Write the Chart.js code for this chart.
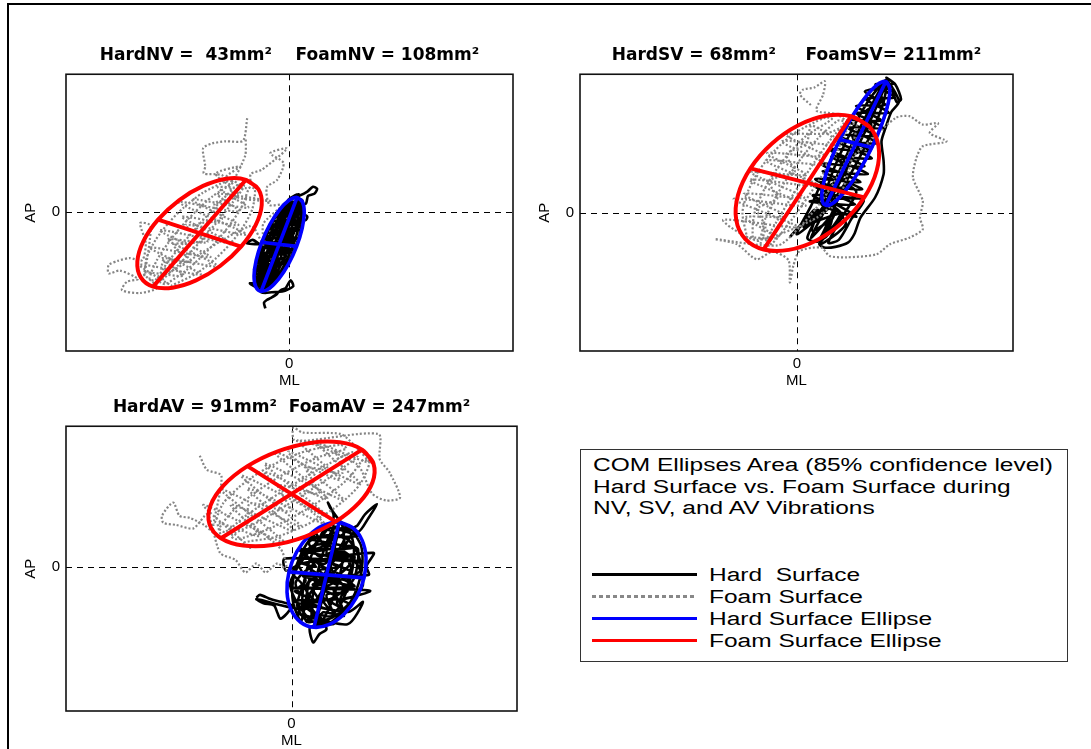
<!DOCTYPE html>
<html><head><meta charset="utf-8">
<script src="https://cdn.jsdelivr.net/npm/chart.js@4.4.0/dist/chart.umd.min.js"></script>
<style>
html,body{margin:0;padding:0;background:#fff;overflow:hidden;width:1091px;height:749px;}
#frame{position:absolute;left:7px;top:3px;width:1084px;height:746px;border-top:2px solid #000;border-left:2px solid #000;box-sizing:border-box;}
canvas{position:absolute;}
#legendBox{position:absolute;left:580px;top:449px;width:488px;height:213px;border:1px solid #333;box-sizing:border-box;background:#fff;}
.lt{position:absolute;left:12px;font-family:'Liberation Sans',Arial,sans-serif;font-size:18px;line-height:22px;white-space:pre;transform-origin:0 50%;transform:scaleX(1.36);color:#000;}
.le{left:128px;}
.ls{position:absolute;left:11px;width:105px;height:3px;}
</style></head><body>
<div id="frame"></div>
<canvas id="c1"></canvas><canvas id="c2"></canvas><canvas id="c3"></canvas>
<div id="legendBox">
  <div class="lt" style="top:4px">COM Ellipses Area (85% confidence level)</div>
  <div class="lt" style="top:26px">Hard Surface vs. Foam Surface during</div>
  <div class="lt" style="top:47px">NV, SV, and AV Vibrations</div>
  <div class="ls" style="top:123px;background:#000"></div>
  <div class="ls" style="top:145px;background:repeating-linear-gradient(to right,#888 0 4px,transparent 4px 7px)"></div>
  <div class="ls" style="top:167px;background:#0000ff"></div>
  <div class="ls" style="top:189px;background:#ff0000"></div>
  <div class="lt le" style="top:114px">Hard  Surface</div>
  <div class="lt le" style="top:136px">Foam Surface</div>
  <div class="lt le" style="top:158px">Hard Surface Ellipse</div>
  <div class="lt le" style="top:180px">Foam Surface Ellipse</div>
</div>
<script>
// ================= DATA (ML / AP, mm) =================
const tickValues = [0];
const panelTitles = [
  'HardNV =  43mm\u00B2    FoamNV = 108mm\u00B2',
  'HardSV = 68mm\u00B2     FoamSV= 211mm\u00B2',
  'HardAV = 91mm\u00B2  FoamAV = 247mm\u00B2'
];
const nvRangeX = [-31.9, 32.0], nvRangeY = [-19.9, 19.7];
const svRangeX = [-31.0, 30.9], svRangeY = [-19.7, 19.9];
const avRangeX = [-32.2, 32.2], avRangeY = [-20.6, 20.1];

// ---- NV ----
const nvHardEllipse = [[1.14,2.07],[1.90,1.45],[2.16,-0.11],[1.86,-2.34],[1.07,-4.93],[-0.10,-7.48],[-1.48,-9.59],[-2.84,-10.95],[-4.00,-11.35],[-4.76,-10.73],[-5.02,-9.17],[-4.72,-6.94],[-3.93,-4.35],[-2.76,-1.80],[-1.38,0.31],[-0.02,1.67],[1.14,2.07],[1.90,1.45]];
const nvHardAxes = [[1.14,2.07],[-4.00,-11.35],null,[1.07,-4.93],[-3.93,-4.35]];
const nvFoamEllipse = [[-6.17,4.60],[-4.41,3.28],[-3.92,1.00],[-4.79,-1.90],[-6.88,-4.97],[-9.87,-7.74],[-13.32,-9.80],[-16.67,-10.84],[-19.45,-10.68],[-21.21,-9.36],[-21.70,-7.08],[-20.83,-4.18],[-18.74,-1.11],[-15.75,1.66],[-12.30,3.72],[-8.95,4.76],[-6.17,4.60],[-4.41,3.28]];
const nvFoamAxes = [[-6.17,4.60],[-19.45,-10.68],null,[-6.88,-4.97],[-18.74,-1.11]];
const nvHardTrace = [[-3.4,-13.8],[-3.6,-13.0],[-3.2,-12.6],[-2.6,-12.3],[-1.8,-11.8],[-1.2,-11.2],[-0.5,-10.9],[0.2,-9.8],[0.6,-10.6],[0.0,-11.0],[-1.0,-11.4],[-2.5,-11.5],[-3.4,-11.6],[-4.0,-11.5],
  [-4.74,-10.56],[-4.87,-9.15],[-4.57,-7.08],[-3.73,-4.37],[-2.51,-1.72],[-1.27,0.25],[-0.12,1.52],
  [0.12,1.49],[-0.88,0.21],[-2.01,-1.77],[-3.28,-4.44],[-4.07,-7.13],[-4.48,-9.19],[-4.50,-10.59],
  [-4.26,-10.62],[-4.09,-9.24],[-3.46,-7.19],[-2.63,-4.50],[-1.40,-1.83],[-0.49,0.16],[0.36,1.46],
  [0.60,1.43],[-0.09,0.11],[-1.00,-1.89],[-2.08,-4.56],[-3.06,-7.25],[-3.69,-9.29],[-4.02,-10.65],
  [-3.79,-10.67],[-3.32,-9.33],[-2.57,-7.31],[-1.56,-4.63],[-0.51,-1.95],[0.28,0.07],[0.83,1.41],
  [1.05,1.38],[0.66,0.03],[-0.03,-2.00],[-1.03,-4.69],[-2.09,-7.36],[-2.94,-9.37],[-3.57,-10.70],
  [-3.34,-10.73],[-2.57,-9.42],[-1.61,-7.42],[-0.50,-4.75],[0.45,-2.06],[1.03,-0.02],[1.28,1.35],
  [1.51,1.33],[1.41,-0.06],[0.93,-2.11],[0.02,-4.81],[-1.13,-7.47],[-2.19,-9.46],[-3.11,-10.75],
  [-2.89,-10.78],[-1.84,-9.50],[-0.67,-7.53],[0.52,-4.87],[1.39,-2.17],[1.76,-0.10],[1.73,1.30],
  [1.92,1.28],[2.07,-0.14],[1.78,-2.21],[0.95,-4.92],[-0.28,-7.57],[-1.53,-9.54],[-2.70,-10.80],
  [-4.1,-9.5],[-1.3,-7.5],[-2.9,-8.5],[-3.5,-6.0],[-0.4,-4.5],[-2.3,-5.5],[0.7,-3.0],[-1.6,-2.0],[1.2,-0.5],[-2.8,-3.5],[-0.6,-6.5],[-3.6,-9.0],[-3.1,-7.0],[-0.9,-4.0],[-0.8,-1.0],[1.3,0.5],[0.2,1.0],[1.4,-1.5],[-1.4,-5.0],[-1.9,-8.0],[-3.8,-10.3],[-4.3,-8.0],[-3.6,-5.0],[-0.9,-2.5],[0.6,-4.0],[-1.6,-6.0],[0.4,-2.0],[-0.7,0.0],
  [-4.5,-10.0],[-2.2,-9.3],[-5.0,-8.2],[-0.9,-7.4],[-4.3,-6.6],[0.3,-5.8],[-3.8,-5.0],[0.8,-4.2],[-3.4,-3.5],[1.4,-2.6],[-2.5,-1.9],[1.9,-1.0],[-1.6,-0.3],[2.0,0.4],[-0.6,0.9],[1.9,1.6],[0.6,2.2],
  [1.6,2.4],[2.6,2.9],[3.4,3.6],[4.0,3.3],[3.6,2.6],[2.7,2.3],[2.4,1.2],
  [1.5,1.0],[-1.2,0.2],[2.2,-0.4],[2.6,-0.7],[2.3,-1.2],[-2.1,-1.3],[1.6,-2.1],[-2.9,-3.0],[1.1,-3.8],[-3.6,-4.6],[-6.0,-4.5],[-5.2,-4.0],[-3.9,-4.8],[0.6,-5.4],[-4.1,-6.2],[-0.1,-7.0],[-4.6,-7.8],[-1.2,-8.6],[-4.8,-9.4],[-2.6,-10.2],[-5.6,-10.2],[-4.2,-11.0],
  [-3.0,-10.8],[-4.9,-9.0],[-1.8,-8.2],[-3.5,-7.2],[-0.4,-6.3],[-3.9,-4.2],[0.2,-3.2],[-2.8,-2.4],[1.0,-1.6],[-1.8,-0.8],[1.2,0.2],[-0.2,1.6],[1.4,2.5],
  [0.5,-0.5],[-1.5,-3.5],[-0.5,-4.0],[-2.5,-6.5],[-1.5,-7.0],[-3.2,-9.5],[-2.0,-9.0],[-3.8,-10.5],
  [-4.6,-9.8],[-3.0,-8.0],[-4.0,-7.3],[-1.0,-5.5],[-3.0,-5.5],[-0.5,-2.5],[-2.0,-2.0],[0.5,-1.0],[-0.9,0.0],[1.3,1.0]];
const nvFoamTrace = [[-6.0,13.4],[-6.6,10.2],[-9.1,10.1],[-11.0,9.8],[-12.3,9.1],[-12.0,6.5],[-12.2,5.5],[-9.5,5.2],[-7.56,2.16],
  [-2.75,1.57],[-10.26,2.55],[-7.11,0.05],[-15.82,1.41],[-6.13,-3.21],[-14.84,-1.85],[-11.68,-4.34],[-17.43,-3.94],[-10.12,-7.8],[-18.23,-6.62],[-15.08,-9.12],[-20.81,-8.72],[-18.85,-10.83],
  [-21.3,-11.6],[-23.9,-11.2],[-23.2,-10.0],[-21.6,-9.6],[-24.2,-8.4],[-25.8,-8.8],[-25.8,-7.6],[-24.5,-7.0],[-22.8,-6.6],[-21.0,-6.9],[-20.5,-4.5],[-21.3,-1.6],[-19.8,-2.0],
  [-20.73,-9.29],[-20.35,-6.46],[-19.05,-3.95],[-17.26,-1.59],[-15.07,0.63],[-12.39,2.70],[-8.77,4.47],
  [-7.99,4.22],[-10.96,2.23],[-13.36,0.08],[-15.48,-2.17],[-17.34,-4.50],[-18.92,-6.93],[-19.95,-9.54],
  [-19.18,-9.79],[-17.50,-7.39],[-15.65,-5.05],[-13.70,-2.75],[-11.67,-0.47],[-9.54,1.77],[-7.22,3.97],
  [-6.44,3.71],[-8.12,1.31],[-9.97,-1.03],[-11.92,-3.33],[-13.95,-5.61],[-16.08,-7.85],[-18.40,-10.05],
  [-17.63,-10.30],[-14.66,-8.31],[-12.26,-6.16],[-10.14,-3.91],[-8.28,-1.58],[-6.70,0.85],[-5.67,3.46],
  [-4.89,3.21],[-5.27,0.38],[-6.57,-2.13],[-8.36,-4.49],[-10.55,-6.71],[-13.23,-8.78],[-16.85,-10.55],
  [-17.0,-10.46],[-21.34,-7.57],[-12.63,-8.93],[-19.94,-5.09],[-11.23,-6.45],[-18.54,-2.61],[-8.65,-4.35],[-15.36,-0.69],[-7.25,-1.87],[-13.96,1.79],[-5.85,0.61],[-10.19,3.5],[-5.63,3.49],[-5.5,5.4],
  [-4.0,6.0],[-2.0,7.5],[-0.3,9.1],[-2.7,8.4],[-0.8,7.0],[-1.7,4.6],[-3.2,3.5],[-2.8,1.0],[-1.0,1.0],[-3.7,-1.7],[-3.7,-4.7],[-5.5,-2.0],
  [-18.11,-9.11],[-17.97,-7.19],[-14.01,-7.02],[-16.57,-4.71],[-12.27,-4.15],[-13.33,-1.85],[-9.62,-1.1],[-10.67,1.21],[-7.56,2.16],[-7.41,4.07],
  [-9.0,5.0],[-7.0,6.5],[-10.5,5.5],[-8.5,4.0],[-6.3,8.0],[-6.2,10.5]];

// ---- SV ----
const svHardEllipse = [[12.72,18.86],[13.27,17.97],[13.08,15.86],[12.19,12.86],[10.72,9.43],[8.91,6.08],[7.02,3.34],[5.35,1.59],[4.14,1.14],[3.59,2.03],[3.78,4.14],[4.67,7.14],[6.14,10.57],[7.95,13.92],[9.84,16.66],[11.51,18.41],[12.72,18.86],[13.27,17.97]];
const svHardAxes = [[12.72,18.86],[4.14,1.14],null,[10.72,9.43],[6.14,10.57]];
const svFoamEllipse = [[7.74,13.89],[10.39,12.37],[11.67,9.64],[11.41,6.10],[9.64,2.29],[6.63,-1.20],[2.85,-3.84],[-1.15,-5.23],[-4.74,-5.17],[-7.39,-3.65],[-8.67,-0.92],[-8.41,2.62],[-6.64,6.43],[-3.63,9.92],[0.15,12.56],[4.15,13.95],[7.74,13.89],[10.39,12.37]];
const svFoamAxes = [[7.74,13.89],[-4.74,-5.17],null,[9.64,2.29],[-6.64,6.43]];
const svHardTrace = [[-1.0,-3.4],[2.5,0.5],[1.0,-2.0],[4.5,1.5],[2.0,-3.5],[5.5,0.2],[3.3,-4.4],[7.0,-1.5],[5.0,1.5],[8.5,-0.5],
  [3.45,1.31],[3.79,4.21],[4.61,6.98],[6.14,10.57],[8.05,14.06],[9.79,16.61],[11.80,18.60],
  [12.08,18.53],[10.45,16.44],[8.89,13.85],[7.06,10.34],[5.45,6.77],[4.45,4.04],[3.73,1.24],
  [4.00,1.17],[5.10,3.88],[6.29,6.56],[7.97,10.11],[9.73,13.64],[11.10,16.28],[12.37,18.46],
  [12.65,18.38],[11.76,16.12],[10.57,13.44],[8.89,9.89],[7.13,6.36],[5.76,3.72],[4.28,1.11],
  [4.55,1.04],[6.41,3.56],[7.97,6.15],[9.80,9.66],[11.41,13.23],[12.41,15.96],[12.94,18.31],
  [13.22,18.24],[13.07,15.79],[12.25,13.02],[10.72,9.43],[8.81,5.94],[7.07,3.39],[4.83,0.97],
  [0.0,-3.0],[2.0,1.0],[4.0,5.0],[5.5,4.5],[3.5,0.5],[1.5,-3.5],[3.0,-4.0],[5.0,0.0],[7.0,4.0],[8.5,3.0],[6.5,-0.5],[4.5,-4.2],[6.0,-3.8],[7.8,-0.8],[9.5,2.0],
  [1.85,1.71],[8.31,1.29],[2.42,3.95],[9.34,3.42],[3.68,6.02],[10.15,5.6],[4.94,8.09],[10.72,7.84],[5.97,10.22],[11.52,10.03],[7.23,12.28],[12.32,12.21],[8.49,14.36],[13.12,14.39],[9.75,16.42],[13.92,16.58],[11.23,18.44],[13.87,18.57],
  [12.8,19.4],[14.1,18.4],[14.9,16.3],[14.3,15.9],[13.6,17.5],
  [12.75,17.86],[9.72,17.42],[12.63,15.51],[8.46,15.35],[12.06,13.26],[7.2,13.29],[11.26,11.08],[5.94,11.21],[10.46,8.9],[4.68,9.15],[9.66,6.71],[3.42,7.08],[9.09,4.48],[2.62,4.89],[8.29,2.29],[2.28,2.6],[6.22,0.13],
  [3.9,-3.5],[3.2,-4.4],[3.9,-4.9],[5.5,-4.8],[7.3,-4.2],[8.2,-3.0],[9.1,-0.6],[11.2,2.3],[12.4,5.6],[12.4,7.5],[12.1,10.3],[12.6,12.0],[13.5,14.5],[14.6,16.0],
  [12.81,19.04],[11.83,18.08],[12.12,16.03],[9.89,14.6],[10.64,12.43],[7.94,11.12],[8.92,8.88],[6.22,7.57],[7.43,5.28],[4.74,3.97],[5.04,1.41],
  [2.0,-0.5],[0.4,-2.0],[3.0,0.5],[2.2,-2.5],[5.0,-1.0],[4.0,-3.5],[6.5,0.0],[1.0,-1.8]];
const svFoamTrace = [[2.0,15.5],[0.43,17.0],[0.9,17.7],[2.5,18.0],[4.0,18.9],[3.76,17.0],[2.8,14.7],[5.6,14.2],[7.12,12.94],
  [4.24,11.44],[-1.58,11.26],[4.0,8.17],[-4.27,8.6],[1.31,5.52],[-6.54,5.85],[1.06,2.24],[-7.6,2.78],[-1.62,-0.41],[-7.44,-0.59],[-2.68,-3.47],[-7.38,-3.39],
  [-7.14,-3.45],[-7.78,0.05],[-6.97,3.18],[-5.42,6.12],[-3.23,8.90],[-0.30,11.49],[4.10,13.71],
  [4.99,13.48],[1.33,11.07],[-1.29,8.40],[-3.38,5.60],[-5.03,2.68],[-6.15,-0.37],[-6.25,-3.68],
  [-5.37,-3.90],[-4.52,-0.78],[-3.09,2.19],[-1.35,5.08],[0.65,7.91],[2.96,10.66],[5.87,13.26],
  [6.77,13.03],[4.59,10.25],[2.59,7.42],[0.69,4.57],[-1.15,1.70],[-2.89,-1.19],[-4.47,-4.13],
  [-3.59,-4.36],[-1.26,-1.61],[0.79,1.20],[2.72,4.05],[4.53,6.92],[6.22,9.83],[7.65,12.80],
  [8.54,12.58],[7.84,9.42],[6.48,6.43],[4.76,3.53],[2.74,0.71],[0.36,-2.02],[-2.70,-4.58],
  [-11.7,-3.7],[-8.6,-4.4],[-5.76,-6.57],[-3.5,-5.5],[-1.2,-6.7],[-1.0,-9.9],[-0.5,-7.5],[0.4,-5.4],[3.5,-4.9],[4.67,-6.1],[7.1,-6.3],[11.4,-5.86],[13.3,-4.43],[16.1,-3.48],[18.0,-2.29],[17.6,-0.62],[18.0,1.76],[16.6,5.1],[17.1,7.95],[18.0,9.6],[21.4,10.3],[19.0,11.5],[20.2,12.9],[18.0,12.7],[16.1,13.9],[14.2,13.7],[10.4,10.3],[8.0,8.0],
  [7.44,6.18],[6.38,3.12],[3.07,-0.49],
  [-5.75,-3.81],[-10.51,-0.93],[0.2,-1.98],[-9.04,2.04],[1.26,1.09],[-6.77,4.79],[3.13,3.95],[-4.48,7.55],[4.18,7.01],[-2.2,10.31],[6.05,9.87],[2.11,12.55],
  [1.36,9.96],[-1.51,8.46],[-0.32,5.93],[-4.0,4.65],[-2.81,2.12],[-5.69,0.63],[-4.5,-1.9],[-5.24,-4.48]];

// ---- AV ----
const avHardEllipse = [[6.79,6.36],[8.70,5.63],[10.06,3.86],[10.64,1.33],[10.36,-1.57],[9.26,-4.41],[7.52,-6.74],[5.40,-8.23],[3.21,-8.64],[1.30,-7.91],[-0.06,-6.14],[-0.64,-3.61],[-0.36,-0.71],[0.74,2.13],[2.48,4.46],[4.60,5.95],[6.79,6.36],[8.70,5.63]];
const avHardAxes = [[6.79,6.36],[3.21,-8.64],null,[10.36,-1.57],[-0.36,-0.71]];
const avFoamEllipse = [[10.07,16.76],[11.71,14.76],[11.57,12.10],[9.66,9.18],[6.29,6.46],[1.96,4.34],[-2.67,3.14],[-6.89,3.06],[-10.07,4.10],[-11.71,6.10],[-11.57,8.76],[-9.66,11.68],[-6.29,14.40],[-1.96,16.52],[2.67,17.72],[6.89,17.80],[10.07,16.76],[11.71,14.76]];
const avFoamAxes = [[10.07,16.76],[-10.07,4.10],null,[6.29,6.46],[-6.29,14.40]];
const avHardTrace = [[-5.0,-4.4],[-4.5,-4.0],[-3.0,-4.6],[-1.5,-5.0],[0.0,-5.5],[-0.6,-6.6],[-1.6,-7.4],[-2.0,-6.6],[-2.5,-5.5],[-4.0,-5.2],[-5.0,-4.6],
  [2.0,-6.0],[4.5,-3.0],[3.0,-1.0],[6.5,-2.5],[5.5,0.5],[8.5,-0.5],[7.0,2.5],[4.0,1.5],[2.5,3.5],[5.0,4.5],[7.5,4.0],[6.0,1.0],[9.0,1.5],[8.0,-2.0],[9.5,-4.0],[6.5,-5.0],[7.5,-7.0],[4.5,-6.5],[3.5,-8.0],[2.5,-4.5],[0.5,-3.5],[2.0,-2.0],[1.0,0.5],[3.5,0.0],[2.0,2.0],[4.5,3.0],[3.5,5.0],[6.0,5.5],[5.0,2.0],[7.5,1.0],[6.0,-1.0],[8.0,-3.5],[5.0,-4.0],[6.0,-7.0],[3.0,-6.5],[1.5,-5.0],[4.0,-5.0],[3.0,-3.0],[5.5,-2.0],[4.0,-0.5],[6.5,0.0],[5.0,1.0],[8.0,3.0],[9.5,2.5],[9.0,-1.5],[7.0,-4.5],[8.5,-5.5],[5.5,-8.0],[2.0,-7.5],[0.8,-5.5],[1.5,-2.5],[0.2,-1.0],[1.5,1.5],[3.0,3.0],[5.5,3.5],[7.0,5.5],[8.5,4.5],
  [1.0,-6.5],[3.8,-7.2],[2.3,-5.2],[5.2,-6.0],[4.0,-4.2],[7.2,-5.8],[6.0,-3.2],[9.0,-2.8],[7.2,-1.8],[4.8,-2.8],[2.8,-1.8],[1.2,-3.8],[0.6,-2.2],[2.5,-0.3],[4.6,-1.6],[6.6,-1.2],[8.4,0.6],[6.5,1.8],[4.6,0.4],[2.8,1.0],[1.0,2.6],[3.2,2.2],[5.8,2.6],[7.8,2.0],[9.6,0.0],[10.2,-2.6],[8.8,-4.6],[7.0,-6.4],[5.4,-7.4],[3.0,-7.8],[1.8,-6.6],[0.4,-4.4],[-0.2,-2.4],[0.8,-0.2],[2.2,1.8],[3.8,3.8],[4.8,5.4],[6.6,4.6],[8.2,3.8],[9.6,1.6],[9.8,-0.6],[8.2,-1.4],[6.2,-2.0],[3.8,-1.2],[2.0,-3.0],[3.4,-4.8],[5.6,-4.6],[7.6,-3.0],[5.2,-0.6],[3.2,0.8],
  [1.40,-7.73],[0.29,-5.35],[0.11,-3.04],[0.44,-0.77],[1.19,1.46],[2.43,3.65],[4.62,5.77],
  [5.32,5.71],[3.71,3.55],[2.73,1.34],[2.05,-0.90],[1.65,-3.16],[1.57,-5.45],[2.10,-7.79],
  [2.81,-7.84],[2.86,-5.55],[3.18,-3.29],[3.66,-1.03],[4.26,1.21],[5.00,3.45],[6.03,5.66],
  [6.73,5.60],[6.28,3.34],[5.80,1.09],[5.27,-1.16],[4.72,-3.41],[4.14,-5.66],[3.51,-7.90],
  [4.21,-7.96],[5.43,-5.76],[6.25,-3.53],[6.88,-1.29],[7.33,0.97],[7.57,3.24],[7.43,5.54],
  [8.13,5.49],[8.86,3.14],[8.86,0.84],[8.48,-1.42],[7.78,-3.66],[6.72,-5.86],[4.91,-8.01],
  [5.49,-8.06],[7.79,-5.95],[9.06,-3.76],[9.82,-1.53],[10.14,0.74],[9.93,3.05],[8.71,5.44],
  [9.4,5.9],[10.5,7.5],[12.2,8.95],[11.0,7.0],[9.5,5.0],[7.0,6.5],[5.5,8.5],[5.2,9.2],[6.0,7.5],
  [6.07,5.65],[9.62,4.45],[1.89,4.15],[8.65,2.69],[0.93,2.4],[9.29,0.81],[-1.0,1.2],[-0.8,-0.5],[1.57,0.51],[11.7,2.0],[10.7,0.1],[11.01,-1.16],[1.67,-1.33],[8.97,-2.83],[-0.1,-3.02],[11.2,-3.4],[7.47,-4.55],[0.28,-4.89],[8.11,-6.43],[10.2,-5.0],[8.0,-8.2],[1.46,-6.82],[6.07,-8.11],[2.67,-8.6],
  [3.1,-10.8],[4.0,-9.6],[5.0,-8.9],
  [4.11,-7.18],[1.79,-5.47],[6.42,-4.31],[3.03,-2.51],[7.14,-1.31],[3.75,0.49],[7.33,1.73],[5.0,3.45],[7.5,4.77],[6.88,6.74]];
const avFoamTrace = [[-13.1,15.9],[-12.1,13.9],[-10.0,13.0],
  [-11.12,6.03],[-9.81,9.01],[-7.52,11.37],[-4.72,13.41],[-1.48,15.17],[2.27,16.61],[7.00,17.43],
  [7.83,16.91],[3.78,15.66],[0.32,14.03],[-2.83,12.22],[-5.72,10.23],[-8.30,8.06],[-10.29,5.51],
  [-9.47,4.99],[-6.79,7.11],[-3.92,9.10],[-0.94,11.03],[2.12,12.90],[5.29,14.71],[8.65,16.39],
  [9.47,15.87],[6.79,13.75],[3.92,11.76],[0.94,9.83],[-2.12,7.96],[-5.29,6.15],[-8.65,4.47],
  [-7.83,3.95],[-3.78,5.20],[-0.32,6.83],[2.83,8.64],[5.72,10.63],[8.30,12.80],[10.29,15.35],
  [11.12,14.83],[9.81,11.85],[7.52,9.49],[4.72,7.45],[1.48,5.69],[-2.27,4.25],[-7.00,3.43],
  [-5.91,2.74],[-12.58,8.86],[-1.01,3.45],[-10.19,11.15],[1.38,5.75],[-7.17,13.05],[5.03,7.25],[-3.84,14.75],[7.42,9.55],[-0.5,16.46],[9.81,11.85],[3.78,17.56],[10.95,14.94],[8.81,17.55],
  [7.0,19.0],[1.6,19.2],[0.26,19.9],[0.5,18.0],
  [12.4,19.0],[12.6,15.4],[14.0,13.5],[15.5,9.9],[13.5,9.5],[11.5,10.5],
  [9.32,14.7],[0.89,18.11],[6.93,12.41],[-2.46,16.42],[5.16,9.71],[-3.9,13.53],[4.65,6.23],[-6.29,11.23],[0.37,5.12],[-8.69,8.94],[-4.53,4.41],[-10.45,6.24],[-10.07,4.1],
  [-12.5,6.0],[-14.5,7.0],[-16.0,7.3],[-16.9,9.2],[-18.5,7.3],[-18.3,6.3],[-16.5,6.0],[-14.0,5.5],[-12.0,7.5],
  [-10.2,2.0],[-8.0,1.0],[-6.6,-0.8],[-5.0,0.5],[-3.7,-0.8],[-2.0,0.5],[-0.7,-0.4],[-1.5,2.5],
  [-6.04,6.63],[-5.92,9.09],[-0.12,7.97],[-1.89,11.62],[3.9,10.51],[2.14,14.15],[7.3,13.44],[6.17,16.68]];

// ================= LAYOUT / STYLE =================
const panelBoxes = [
  {id:'c1', left:66,  top:74,  w:447, h:277},
  {id:'c2', left:580, top:74,  w:433, h:277},
  {id:'c3', left:66,  top:426, w:451, h:285}
];
const AXIS_W = 50, AXIS_H = 45, TITLE_H = 29;

const pts = a => a.map(p => p === null ? {x:null, y:null} : {x:p[0], y:p[1]});

function panelDatasets(hardTrace, foamTrace, hardEll, hardAxes, foamEll, foamAxes) {
  return [
    {label:'Foam Surface Ellipse', data:pts(foamEll), borderColor:'#ff0000', borderWidth:4, tension:0.4},
    {label:'Foam ellipse axes', data:pts(foamAxes), borderColor:'#ff0000', borderWidth:4, tension:0},
    {label:'Hard Surface Ellipse', data:pts(hardEll), borderColor:'#0000ff', borderWidth:3.6, tension:0.4},
    {label:'Hard ellipse axes', data:pts(hardAxes), borderColor:'#0000ff', borderWidth:3.6, tension:0},
    {label:'Foam Surface', data:pts(foamTrace), borderColor:'#858585', borderWidth:2.2, borderDash:[2,2], tension:0.25},
    {label:'Hard Surface', data:pts(hardTrace), borderColor:'#000000', borderWidth:2.6, tension:0.25}
  ].map(d => Object.assign({showLine:true, pointRadius:0, pointHoverRadius:0, fill:false, spanGaps:false, xAxisID:'x', yAxisID:'y'}, d));
}

const frameLines = {
  id:'frameLines',
  beforeDatasetsDraw(chart) {
    const {ctx, chartArea:a, scales:{x, y}} = chart;
    const px = Math.round(x.getPixelForValue(0)) + 0.5, py = Math.round(y.getPixelForValue(0)) + 0.5;
    ctx.save();
    ctx.strokeStyle = '#000'; ctx.lineWidth = 1; ctx.setLineDash([6, 5]);
    ctx.beginPath();
    ctx.moveTo(px, a.top); ctx.lineTo(px, a.bottom);
    ctx.moveTo(a.left, py); ctx.lineTo(a.right, py);
    ctx.stroke();
    ctx.restore();
  },
  afterDraw(chart) {
    const {ctx, chartArea:a} = chart;
    ctx.save();
    ctx.strokeStyle = '#111'; ctx.lineWidth = 1.6; ctx.setLineDash([]);
    ctx.strokeRect(a.left, a.top, a.right - a.left, a.bottom - a.top);
    ctx.restore();
  }
};

function makePanel(box, title, rx, ry, datasets) {
  const cv = document.getElementById(box.id);
  const W = box.w + 2 * AXIS_W, H = box.h + TITLE_H + AXIS_H;
  cv.width = W; cv.height = H;
  cv.style.left = (box.left - AXIS_W) + 'px';
  cv.style.top = (box.top - TITLE_H) + 'px';
  cv.style.width = W + 'px'; cv.style.height = H + 'px';
  const tickFont = {family:"'Liberation Sans', Arial, sans-serif", size:15};
  return new Chart(cv, {
    type:'scatter',
    data:{datasets},
    options:{
      responsive:false, animation:false, devicePixelRatio:1,
      layout:{padding:0},
      plugins:{
        legend:{display:false}, tooltip:{enabled:false},
        title:{display:true, text:title, color:'#000',
               font:{family:"'DejaVu Sans', sans-serif", weight:'bold', size:17, lineHeight:1.25},
               padding:{top:0, bottom:8}}
      },
      scales:{
        x:{type:'linear', min:rx[0], max:rx[1],
           grid:{display:false, drawTicks:false}, border:{display:false},
           afterBuildTicks:s => { s.ticks = tickValues.map(v => ({value:v})); },
           afterFit:s => { s.height = AXIS_H; },
           ticks:{color:'#000', font:tickFont, padding:4, maxRotation:0},
           title:{display:true, text:'ML', color:'#000', font:tickFont, padding:{top:0, bottom:6}}},
        y:{type:'linear', position:'left', min:ry[0], max:ry[1],
           grid:{display:false, drawTicks:false}, border:{display:false},
           afterBuildTicks:s => { s.ticks = tickValues.map(v => ({value:v})); },
           afterFit:s => { s.width = AXIS_W; },
           ticks:{color:'#000', font:tickFont, padding:6},
           title:{display:true, text:'AP', color:'#000', font:tickFont, padding:{top:6, bottom:0}}},
        yRight:{type:'linear', position:'right', min:ry[0], max:ry[1],
           grid:{display:false, drawTicks:false}, border:{display:false},
           ticks:{display:false}, title:{display:false},
           afterFit:s => { s.width = AXIS_W; }}
      }
    },
    plugins:[frameLines]
  });
}

makePanel(panelBoxes[0], panelTitles[0], nvRangeX, nvRangeY,
  panelDatasets(nvHardTrace, nvFoamTrace, nvHardEllipse, nvHardAxes, nvFoamEllipse, nvFoamAxes));
makePanel(panelBoxes[1], panelTitles[1], svRangeX, svRangeY,
  panelDatasets(svHardTrace, svFoamTrace, svHardEllipse, svHardAxes, svFoamEllipse, svFoamAxes));
makePanel(panelBoxes[2], panelTitles[2], avRangeX, avRangeY,
  panelDatasets(avHardTrace, avFoamTrace, avHardEllipse, avHardAxes, avFoamEllipse, avFoamAxes));
</script>
</body></html>
